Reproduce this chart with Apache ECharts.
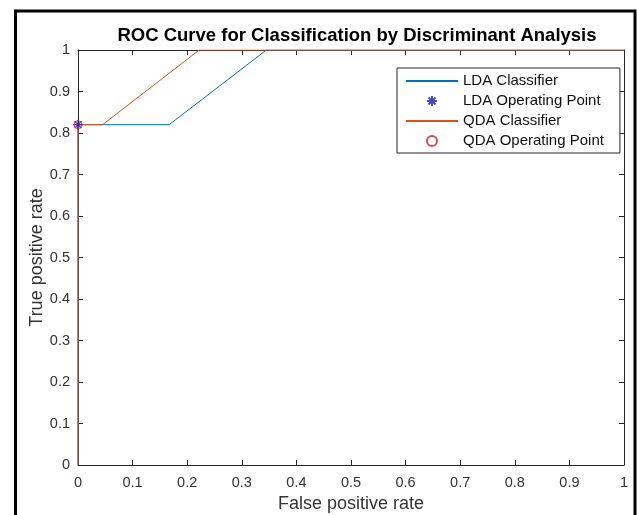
<!DOCTYPE html>
<html>
<head>
<meta charset="utf-8">
<script src="https://cdn.jsdelivr.net/npm/echarts@6/dist/echarts.min.js"></script>
<style>
  html, body { margin: 0; padding: 0; background: #fff; }
  #myChart { width: 637px; height: 515px; }
</style>
</head>
<body>
<div id="myChart"></div>
<script>
// ROC points: [false positive rate, true positive rate]
const ldaCurve = [[0, 0], [0, 0.82], [0.167, 0.82], [0.345, 1], [1, 1]];
const qdaCurve = [[0, 0], [0, 0.82], [0.045, 0.82], [0.222, 1], [1, 1]];
const ldaOperatingPoint = [[0, 0.82]];
const qdaOperatingPoint = [[0, 0.82]];
const seriesNames = ['LDA Classifier', 'LDA Operating Point', 'QDA Classifier', 'QDA Operating Point'];

const axisColor = '#262626';
const asterisk = 'path://M5,0L5,10M0,5L10,5M1.5,1.5L8.5,8.5M1.5,8.5L8.5,1.5';

const myChartDrawer = echarts.init(document.getElementById('myChart'));

// 框内的刻度（MATLAB风格）
const valueAxis = (extra) => Object.assign({
  type: 'value',
  min: 0,
  max: 1,
  interval: 0.1,
  splitLine: { show: false },
  axisLine: { show: true, onZero: false, lineStyle: { color: axisColor, width: 1 } },
  axisTick: { show: true, inside: true, length: 5, lineStyle: { color: axisColor } },
  axisLabel: {
    color: '#333',
    fontSize: 14.5,
    margin: 8,
    fontFamily: 'Liberation Sans',
    formatter: (v) => String(Math.round(v * 10) / 10),
  },
}, extra);

const nameStyle = { fontFamily: 'Liberation Sans', fontSize: 18, color: '#333' };

const option = {
  animation: false,
  backgroundColor: '#fff',
  title: {
    text: 'ROC Curve for Classification by Discriminant Analysis',
    left: 352,
    top: 21,
    textAlign: 'center',
    textStyle: { fontFamily: 'Liberation Sans', fontWeight: 'bold', fontSize: 18.5, color: '#000' },
  },
  graphic: [
    {
      type: 'rect',
      shape: { x: 15.5, y: 11, width: 619.5, height: 520 },
      style: { fill: 'none', stroke: '#000', lineWidth: 3 },
      silent: true,
    },
  ],
  grid: { left: 78, right: 13, top: 50, bottom: 50, outerBoundsMode: 'none' },
  legend: {
    // 线条图例不要中间的圆点
    data: [
      { name: seriesNames[0], itemStyle: { opacity: 0 } },
      { name: seriesNames[1] },
      { name: seriesNames[2], itemStyle: { opacity: 0 } },
      { name: seriesNames[3] },
    ],
    orient: 'vertical',
    left: 397,
    top: 68,
    itemWidth: 52,
    itemHeight: 10,
    itemGap: 4,
    padding: [5, 16, 4, 8],
    borderColor: axisColor,
    borderWidth: 1,
    backgroundColor: '#fff',
    textStyle: { fontFamily: 'Liberation Sans', fontSize: 15, lineHeight: 16, color: '#111' },
  },
  xAxis: [
    valueAxis({
      name: 'False positive rate',
      nameLocation: 'middle',
      nameGap: 30,
      nameMoveOverlap: false,
      nameTextStyle: nameStyle,
      axisLabel: Object.assign(valueAxis().axisLabel, { margin: 10 }),
    }),
    valueAxis({ position: 'top', axisLabel: { show: false } }),
  ],
  yAxis: [
    valueAxis({
      name: 'True positive rate',
      nameLocation: 'middle',
      nameGap: 32,
      nameMoveOverlap: false,
      nameTextStyle: nameStyle,
    }),
    valueAxis({ position: 'right', axisLabel: { show: false } }),
  ],
  series: [
    {
      name: seriesNames[0],
      type: 'line',
      data: ldaCurve,
      symbol: 'none',
      lineStyle: { color: '#0072BD', width: 1 },
      itemStyle: { color: '#0072BD' },
    },
    {
      name: seriesNames[1],
      type: 'scatter',
      data: ldaOperatingPoint,
      symbol: asterisk,
      symbolSize: 10,
      symbolKeepAspect: true,
      itemStyle: { color: 'transparent', borderColor: '#1a1aa0', borderWidth: 1.3 },
      z: 4,
    },
    {
      name: seriesNames[2],
      type: 'line',
      data: qdaCurve,
      symbol: 'none',
      lineStyle: { color: '#D95319', width: 1 },
      itemStyle: { color: '#D95319' },
    },
    {
      name: seriesNames[3],
      type: 'scatter',
      data: qdaOperatingPoint,
      symbol: 'circle',
      symbolSize: 8,
      itemStyle: { color: 'transparent', borderColor: '#d02020', borderWidth: 1 },
      z: 5,
    },
  ],
};

myChartDrawer.setOption(option);
</script>
</body>
</html>
